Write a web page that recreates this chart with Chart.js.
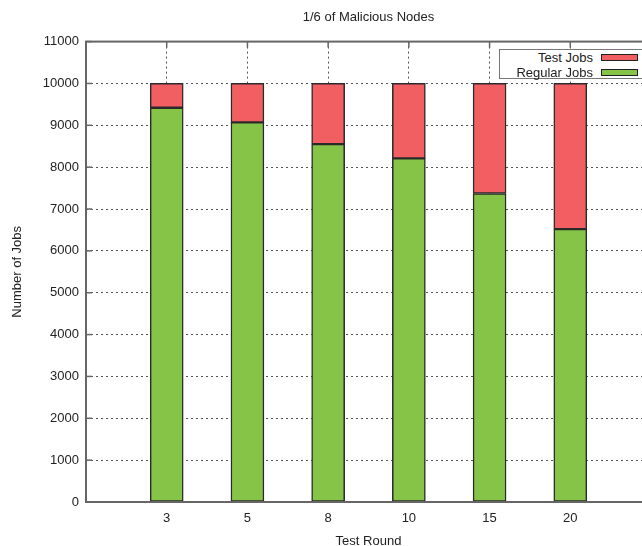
<!DOCTYPE html>
<html>
<head>
<meta charset="utf-8">
<script src="https://cdn.jsdelivr.net/npm/chart.js@4/dist/chart.umd.min.js"></script>
<style>
  html, body { margin: 0; padding: 0; background: #fff; overflow: hidden; }
  #wrap { position: relative; width: 660px; height: 560px; }
  #legenda {
    position: absolute; left: 499px; top: 49px; width: 160px; height: 30px;
    border: 1px solid #777; background: #fff; box-sizing: border-box;
    font: 13px "Liberation Sans", Arial, sans-serif; color: #222;
  }
  .item { position: absolute; left: 0; height: 15px; line-height: 15px; }
  .item span { position: absolute; right: 65px; white-space: nowrap; }
  .item i { position: absolute; left: 101px; top: 4px; width: 37px; height: 7px; border: 1px solid #222; box-sizing: border-box; }
</style>
</head>
<body>
<div id="wrap">
  <canvas id="grafico" width="660" height="560"></canvas>
  <div id="legenda"></div>
</div>
<script>
const categorias = ['3', '5', '8', '10', '15', '20'];
const regularJobs = [9420, 9070, 8550, 8210, 7370, 6520];
const testJobs = [580, 930, 1450, 1790, 2630, 3480];
const yMax = 11000;
const yStep = 1000;

// gnuplot deixa um espaço vazio de uma categoria em cada lado
const labels = ['', ...categorias, ''];
const pad = arr => [null, ...arr, null];

const fonte = { family: '"Liberation Sans", Arial, sans-serif', size: 13 };

// moldura do gráfico e marcas de escala internas
const moldura = {
    id: 'moldura',
    afterDraw(chart) {
        const { ctx, chartArea: a, scales } = chart;
        ctx.save();
        ctx.strokeStyle = '#666';
        ctx.lineWidth = 1.5;
        scales.x.ticks.forEach((t, i) => {
            if (!t.label) return;
            const x = scales.x.getPixelForTick(i);
            ctx.beginPath();
            ctx.moveTo(x, a.top);
            ctx.lineTo(x, a.top + 6);
            ctx.stroke();
        });
        scales.y.ticks.forEach((t, i) => {
            const y = scales.y.getPixelForTick(i);
            ctx.beginPath();
            ctx.moveTo(a.left, y);
            ctx.lineTo(a.left + 6, y);
            ctx.stroke();
        });
        ctx.lineWidth = 2;
        ctx.strokeRect(a.left, a.top, a.right - a.left, a.bottom - a.top);
        ctx.restore();
    }
};

const grafico = new Chart(document.getElementById('grafico'), {
    type: 'bar',
    data: {
        labels: labels,
        datasets: [{
            label: 'Regular Jobs',
            data: pad(regularJobs),
            backgroundColor: '#86c447',
            borderColor: '#2a2a2a',
            borderWidth: 1.5,
            borderSkipped: false,
            barThickness: 33
        }, {
            label: 'Test Jobs',
            data: pad(testJobs),
            backgroundColor: '#f15f62',
            borderColor: '#2a2a2a',
            borderWidth: 1.5,
            borderSkipped: false,
            barThickness: 33
        }]
    },
    options: {
        responsive: false,
        animation: false,
        layout: { padding: { left: 0, right: 7, top: 0, bottom: 0 } },
        plugins: {
            legend: { display: false },
            tooltip: { enabled: false },
            title: {
                display: true,
                text: '1/6 of Malicious Nodes',
                fullSize: false,
                color: '#222',
                font: { ...fonte, weight: 'normal' },
                padding: { top: 10, bottom: 16 }
            }
        },
        scales: {
            x: {
                stacked: true,
                offset: false,
                grid: {
                    offset: false,
                    drawTicks: false,
                    color: c => (c.tick && c.tick.label) ? '#555' : 'rgba(0,0,0,0)',
                    lineWidth: 1
                },
                border: { display: false, dash: [2, 3] },
                ticks: { color: '#222', font: fonte, padding: 9, maxRotation: 0, autoSkip: false },
                title: {
                    display: true,
                    text: 'Test Round',
                    color: '#222',
                    font: fonte,
                    padding: { top: 0, bottom: 11 }
                },
                afterFit: s => { s.height = 58; }
            },
            y: {
                stacked: true,
                min: 0,
                max: yMax,
                grid: {
                    drawTicks: false,
                    color: c => (c.tick && c.tick.value > 0 && c.tick.value < yMax) ? '#555' : 'rgba(0,0,0,0)',
                    lineWidth: 1
                },
                border: { display: false, dash: [2, 3] },
                ticks: {
                    stepSize: yStep,
                    color: '#222',
                    font: fonte,
                    padding: 7,
                    callback: v => String(v)
                },
                title: {
                    display: true,
                    text: 'Number of Jobs',
                    color: '#222',
                    font: fonte,
                    padding: { top: 10, bottom: 0 }
                },
                afterFit: s => { s.width = 86; }
            }
        }
    },
    plugins: [moldura]
});

// legenda no estilo do gnuplot, dentro da área do gráfico
const legenda = document.getElementById('legenda');
grafico.data.datasets.slice().reverse().forEach((ds, i) => {
    const item = document.createElement('div');
    item.className = 'item';
    item.style.top = (i * 15) + 'px';
    item.style.width = '100%';
    item.innerHTML = `<span>${ds.label}</span><i style="background:${ds.backgroundColor}"></i>`;
    legenda.appendChild(item);
});
</script>
</body>
</html>
